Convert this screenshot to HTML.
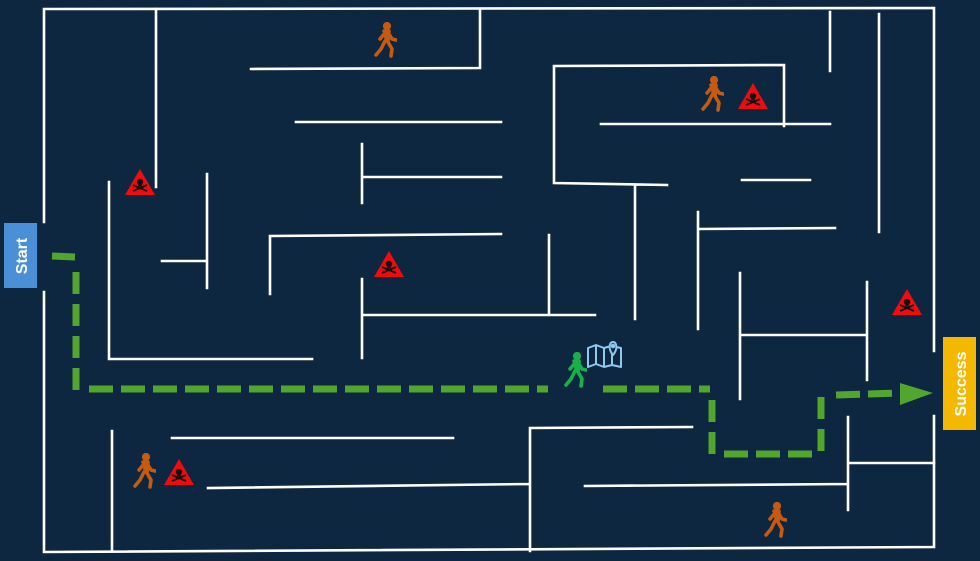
<!DOCTYPE html>
<html><head><meta charset="utf-8"><style>
html,body{margin:0;padding:0;background:#0e2741;}
svg{display:block}
text{font-family:"Liberation Sans",sans-serif;font-weight:bold;fill:#fff}
</style></head><body>
<svg width="980" height="561" viewBox="0 0 980 561" xmlns="http://www.w3.org/2000/svg">
<defs>
<symbol id="warn" viewBox="0 0 32 28">
<polygon points="16,1 31,27 1,27" fill="#f00c0c"/>
<circle cx="16" cy="14" r="3.2" fill="#111"/>
<rect x="14.3" y="16" width="3.4" height="2.5" fill="#111"/>
<path d="M9,17 L23,23 M23,17 L9,23" stroke="#111" stroke-width="1.8"/>
</symbol>
<symbol id="run" viewBox="0 0 24 36">
<circle cx="14" cy="4" r="3.6"/>
<path d="M11,9 L16,9 L15,20 L19,27 L18,34 M12,19 L8,27 L3,33 M12,11 L7,17 M16,12 L19,17 L23,18" stroke-width="3.6" stroke-linecap="round" stroke-linejoin="round" fill="none"/>
<path d="M11,9 L16,9 L15,20 L12,19 Z"/>
</symbol>
</defs>
<rect width="980" height="561" fill="#0e2741"/>
<g stroke="#fff" stroke-width="2.6" fill="none" stroke-linecap="square">
<path d="M44,9 L934,8 M44,9 L44,222 M44,292 L44,552 L934,547 M934,8 L934,351 M934,416 L934,547"/>
<path d="M156,9 L156,187 M251,69 L480,68 L480,9 M296,122 L501,122 M362,144 L362,203 M362,177 L501,177"/>
<path d="M554,66 L784,65 L784,126 M554,66 L554,183 L667,185 M601,124 L830,124 M830,12 L830,71 M879,14 L879,232 M742,180 L810,180 M635,185 L635,319"/>
<path d="M109,182 L109,359 L312,359 M207,174 L207,288 M162,261 L207,261 M270,294 L270,236 L501,234 M549,235 L549,315 M362,279 L362,358 M362,315 L595,315"/>
<path d="M698,212 L698,329 M698,229 L835,228 M740,273 L740,399 M740,335 L867,335 M867,282 L867,380"/>
<path d="M172,438 L453,438 M112,431 L112,550 M208,488 L529,484 M530,428 L530,551 M530,428 L692,427 M585,486 L847,484 M848,417 L848,510 M850,463 L934,463"/>
</g>
<g stroke="#52a52d" stroke-width="7" fill="none">
<path d="M52,256 L75,257"/>
<path d="M76,272 L76,390" stroke-dasharray="22,10"/>
<path d="M89,389 L548,389" stroke-dasharray="24,8"/>
<path d="M603,389 L710,389" stroke-dasharray="24,8"/>
<path d="M712,400 L712,456" stroke-dasharray="22,10"/>
<path d="M724,454 L812,454" stroke-dasharray="24,8"/>
<path d="M821,397 L821,452" stroke-dasharray="22,10"/>
<path d="M836,395 L900,393" stroke-dasharray="24,8"/>
</g>
<polygon points="900,383 933,393 900,405" fill="#52a52d"/>
<rect x="4" y="223" width="33" height="65" fill="#4a90d9"/>
<text transform="translate(27,256) rotate(-90)" font-size="16" text-anchor="middle">Start</text>
<rect x="943" y="337" width="33" height="93" fill="#f5b800"/>
<text transform="translate(966,384) rotate(-90)" font-size="16" text-anchor="middle">Success</text>
<g fill="#c55a11" stroke="#c55a11">
<use href="#run" x="373" y="22" width="24" height="36"/>
<use href="#run" x="700" y="76" width="24" height="36"/>
<use href="#run" x="132" y="453" width="24" height="36"/>
<use href="#run" x="763" y="502" width="24" height="36"/>
</g>
<g fill="#18b04a" stroke="#18b04a">
<use href="#run" x="563" y="352" width="24" height="36"/>
</g>
<use href="#warn" x="124" y="168" width="32" height="28"/>
<use href="#warn" x="373" y="250" width="32" height="28"/>
<use href="#warn" x="737" y="82" width="32" height="28"/>
<use href="#warn" x="891" y="288" width="32" height="28"/>
<use href="#warn" x="163" y="458" width="32" height="28"/>
<g stroke="#8fc9ef" stroke-width="2" fill="none" stroke-linejoin="round">
<path d="M588,348 L596,345 L604,348 L611,346 L621,348 L621,367 L612,365 L604,367 L596,364 L588,367 Z"/>
<path d="M596,345 L596,364 M604,348 L604,367 M612,354 L612,365"/>
<path d="M613,355 C608,349 609,342 613,342 C617,342 618,349 613,355 Z" fill="#0e2741"/>
<circle cx="613" cy="346" r="1.3" fill="#8fc9ef"/>
</g>
</svg>
</body></html>
